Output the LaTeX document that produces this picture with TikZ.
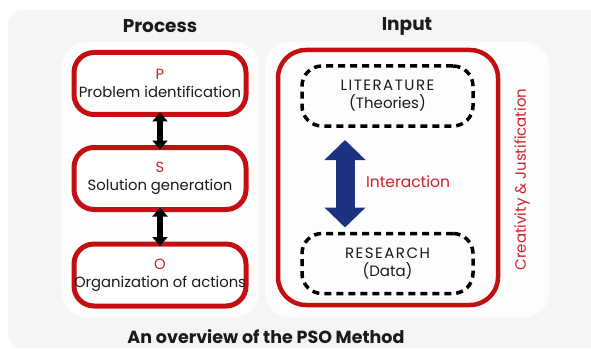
\documentclass[tikz,border=0pt]{standalone}
\usepackage{fontspec}
\setmainfont{Poppins}
\usetikzlibrary{arrows.meta}
\definecolor{bgc}{HTML}{F6F5F3}
\definecolor{panelc}{HTML}{FDFDFD}
\definecolor{redc}{HTML}{C40F12}
\definecolor{redt}{HTML}{D0202A}
\definecolor{bluec}{HTML}{1B3281}
\definecolor{txt}{HTML}{1A1A1A}
\newcommand{\wideCaps}[1]{{\addfontfeature{LetterSpace=10}#1}}
\tikzset{
  panel/.style={fill=panelc, draw=none, rounded corners=24pt, minimum width=#1, minimum height=275pt, inner sep=0pt},
  redbox/.style={draw=redc, line width=5pt, fill=white, rounded corners=20pt, minimum width=172pt, minimum height=62pt, outer sep=0pt, align=center, text=txt, font=\fontsize{14.8}{18}\selectfont, inner sep=0pt},
  dashbox/.style={draw=black, line width=3.5pt, dash pattern=on 7pt off 5pt, rounded corners=20pt, minimum width=171pt, minimum height=60pt, outer sep=0pt, align=center, text=txt, font=\fontsize{15}{18}\selectfont, inner sep=0pt},
  ttl/.style={font=\bfseries\fontsize{18.5}{20}\selectfont, text=txt},
  bidir/.style={line width=6.5pt, {Triangle[width=15pt,length=9pt]}-{Triangle[width=15pt,length=9pt]}, shorten <=-2pt, shorten >=-2pt},
  bluearrow/.style={bluec, line width=19pt, {Triangle[width=40pt,length=20pt]}-{Triangle[width=40pt,length=20pt]}},
}
\begin{document}
\begin{tikzpicture}[x=1pt,y=-1pt]
\useasboundingbox (0,0) rectangle (591,350);
\fill[bgc, rounded corners=15pt] (8,10) rectangle (606,348);
\node[panel=197pt] (lp) at (160.5,179.5) {};
\node[panel=284pt] (rp) at (407,179.5) {};
\node[ttl] (tproc) at (160,26) {Process};
\node[ttl] (tinp) at (407,26) {Input};
\node[redbox] (P) at (160,83.5) {\textcolor{redt}{P}\\Problem identification};
\node[redbox] (S) at (160,178.5) {\textcolor{redt}{S}\\Solution generation};
\node[redbox] (O) at (160,275) {\textcolor{redt}{O}\\Organization of actions};
\draw[bidir] (P.south) -- (S.north);
\draw[bidir] (S.south) -- (O.north);
\node[draw=redc, line width=4.5pt, rounded corners=28pt, minimum width=220pt, minimum height=255pt, outer sep=0pt] (inbox) at (388,177.5) {};
\node[dashbox] (lit) at (387.5,96) {\wideCaps{LITERATURE}\\(Theories)};
\node[dashbox] (res) at (387.5,263.5) {\wideCaps{RESEARCH}\\(Data)};
\draw[bluearrow, shorten <=14pt, shorten >=6pt] ([xshift=-42.5pt]lit.south) -- ([xshift=-42.5pt]res.north);
\node[text=redt, font=\fontsize{15.5}{18}\selectfont] (inter) at (408,182) {Interaction};
\node[text=redt, rotate=90, font=\fontsize{15}{18}\selectfont] (cj) at (522,179.5) {Creativity \& Justification};
\node[ttl, font=\bfseries\fontsize{17.5}{20}\selectfont] (bt) at (266,337) {An overview of the PSO Method};
\end{tikzpicture}
\end{document}
